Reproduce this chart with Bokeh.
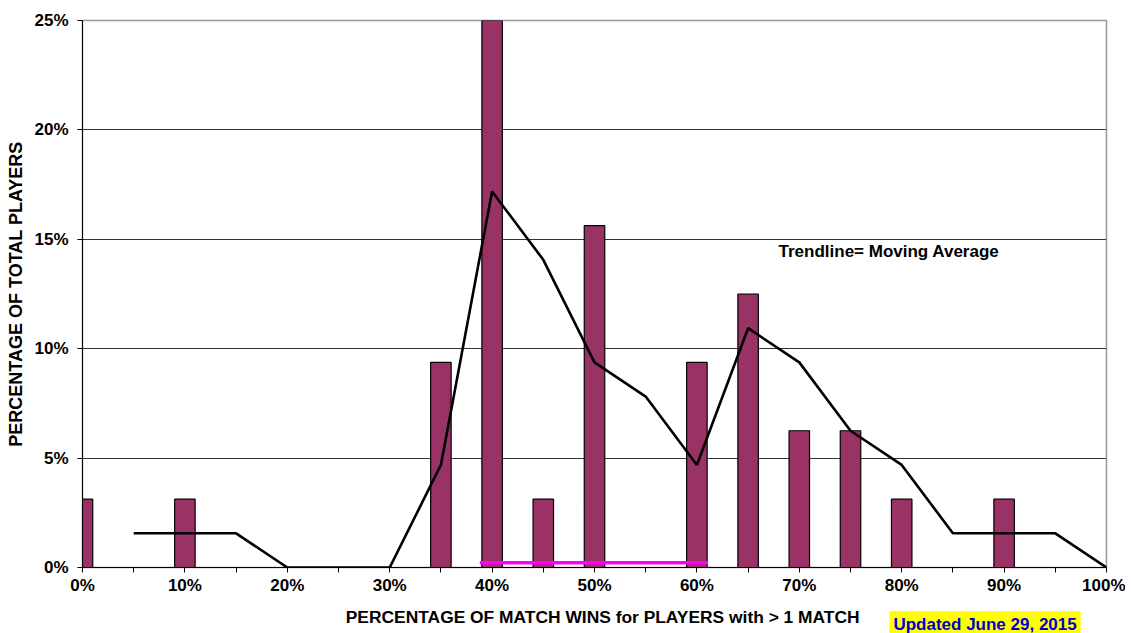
from bokeh.plotting import figure
from bokeh.models import FixedTicker, PrintfTickFormatter, Label, ColumnDataSource, Range1d
from bokeh.embed import file_html
from bokeh.resources import INLINE

# data
win_pct = [0, 5, 10, 15, 20, 25, 30, 35, 40, 45, 50, 55, 60, 65, 70, 75, 80, 85, 90, 95, 100]
player_pct = [3.125, 0, 3.125, 0, 0, 0, 0, 9.375, 25.0, 3.125, 15.625, 0, 9.375, 12.5, 6.25, 6.25, 3.125, 0, 3.125, 0, 0]
ma_x = [5, 10, 15, 20, 25, 30, 35, 40, 45, 50, 55, 60, 65, 70, 75, 80, 85, 90, 95, 100]
ma_y = [1.5625, 1.5625, 1.5625, 0, 0, 0, 4.6875, 17.1875, 14.0625, 9.375, 7.8125, 4.6875, 10.9375, 9.375, 6.25, 4.6875, 1.5625, 1.5625, 1.5625, 0]
range_x = [38.8, 61.1]
range_y = [0.22, 0.22]
x_ticks = [0, 10, 20, 30, 40, 50, 60, 70, 80, 90, 100]
x_minor = [5, 15, 25, 35, 45, 55, 65, 75, 85, 95]
y_ticks = [0, 5, 10, 15, 20, 25]

FONT = "Liberation Sans"

p = figure(width=1125, height=633, output_backend="svg", toolbar_location=None,
           x_range=Range1d(0, 100), y_range=Range1d(0, 25),
           min_border_left=82, min_border_top=18, min_border_right=19, min_border_bottom=66)

src = ColumnDataSource(dict(x=[v for v, h in zip(win_pct, player_pct) if h > 0],
                            top=[h for h in player_pct if h > 0]))
p.vbar(x="x", top="top", bottom=0, width=2.0, source=src,
       fill_color="#993366", line_color="black", line_width=1.2)
p.line(ma_x, ma_y, line_color="black", line_width=2.6)
p.line(range_x, range_y, line_color="#FF00FF", line_width=3.5)

p.xaxis.ticker = FixedTicker(ticks=x_ticks, minor_ticks=x_minor)
p.yaxis.ticker = FixedTicker(ticks=y_ticks)
for ax in (p.xaxis, p.yaxis):
    ax.formatter = PrintfTickFormatter(format="%d%%")
    ax.major_label_text_font = FONT
    ax.major_label_text_font_style = "bold"
    ax.major_label_text_font_size = "17px"
    ax.major_label_text_color = "black"
    ax.axis_label_text_font = FONT
    ax.axis_label_text_font_style = "bold"
    ax.axis_label_text_font_size = "18px"
    ax.axis_label_text_color = "black"
    ax.axis_line_color = "black"
    ax.major_tick_in = 0
    ax.major_tick_out = 5
    ax.minor_tick_in = 0
    ax.minor_tick_out = 5
    ax.major_tick_line_color = "black"
    ax.minor_tick_line_color = "black"

p.yaxis.axis_label = "PERCENTAGE OF TOTAL PLAYERS"
p.xaxis.major_label_standoff = 3
p.yaxis.major_label_standoff = 9
p.yaxis.axis_label_standoff = 5

p.xgrid.grid_line_color = None
p.ygrid.grid_line_color = "#333333"
p.ygrid.grid_line_width = 1
p.outline_line_color = "#999999"
p.outline_line_width = 1.5

p.add_layout(Label(x=67.97, y=14.44, text="Trendline= Moving Average", text_font=FONT,
                   text_font_style="bold", text_font_size="17px", text_color="black",
                   text_baseline="middle"))
# x-axis title (placed in a side panel so it is not clipped to the frame)
p.add_layout(Label(x=50.8, y=-2.26, text="PERCENTAGE OF MATCH WINS for PLAYERS with > 1 MATCH",
                   text_font=FONT, text_font_style="bold", text_font_size="17.4px",
                   text_color="black", text_align="center", text_baseline="middle"), "above")
p.add_layout(Label(x=78.8, y=-2.6, text="Updated June 29, 2015", text_font=FONT,
                   text_font_style="bold", text_font_size="17px", text_color="#0000CC",
                   text_baseline="middle", background_fill_color="#FFFF00",
                   padding=4), "below")

open("out.html", "w").write(file_html(p, INLINE))
